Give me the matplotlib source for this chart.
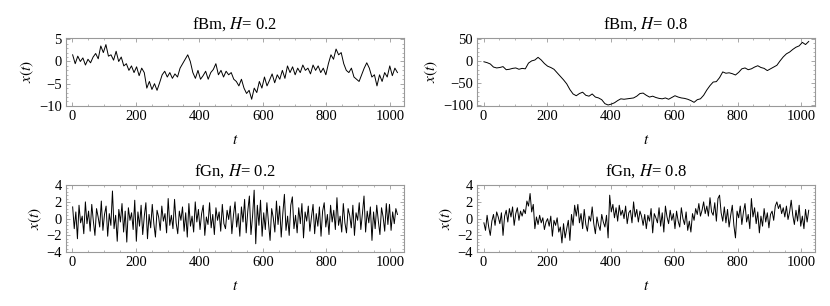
import numpy as np
import matplotlib
matplotlib.use("Agg")
import matplotlib.pyplot as plt
from matplotlib.ticker import MultipleLocator, AutoMinorLocator

plt.rcParams["font.family"] = ["Liberation Serif", "DejaVu Serif"]
plt.rcParams["mathtext.fontset"] = "stix"

# fBm, H = 0.2 (leido cada ~8 pasos)
fbm02 = [1.5, -0.5, 1.2, 0.0, 0.8, -0.8, 0.5, -0.3,
         1.0, 1.8, 0.6, 3.5, 2.0, 3.8, 1.2, 1.5,
         0.3, 2.3, 0.0, 1.0, -1.0, -0.5, -2.0, -1.0,
         -2.5, -1.2, -3.2, -1.5, -2.5, -6.0, -4.5, -6.3,
         -5.0, -6.5, -4.8, -3.0, -2.2, -3.5, -2.5, -3.8,
         -2.8, -3.5, -1.5, -0.5, 0.5, 1.5, 0.0, -2.5,
         -3.8, -2.0, -4.0, -3.2, -2.2, -4.0, -2.5, -1.8,
         -0.5, -3.0, -2.0, -3.5, -2.2, -3.0, -2.5, -4.0,
         -4.5, -5.5, -4.0, -6.0, -7.2, -6.5, -8.5, -6.0,
         -7.0, -4.5, -6.0, -3.5, -5.5, -4.2, -2.8, -4.8,
         -3.0, -4.0, -2.0, -3.8, -1.0, -2.5, -1.2, -3.0,
         -1.5, -2.5, -0.8, -2.0, -1.5, -2.8, -0.8, -2.0,
         -1.0, -2.5, -1.5, -3.0, -0.5, 1.5, 0.5, 2.8,
         1.5, 2.0, -0.5, -2.0, -2.5, -1.5, -3.5, -4.0,
         -4.5, -3.0, -1.5, -0.3, -1.5, -3.5, -3.0, -5.5,
         -3.0, -4.5, -2.5, -3.5, -1.0, -3.2, -1.5, -2.5]

# fBm, H = 0.8 (leido cada ~10 pasos)
fbm08 = [-2, -4, -7, -14, -16, -15, -13, -20, -19, -17,
         -16, -19, -17, -18, -5, 0, 2, 8, 2, -6,
         -12, -15, -19, -27, -35, -43, -52, -65, -75, -79,
         -74, -71, -78, -80, -75, -82, -84, -88, -97, -100,
         -98, -95, -90, -86, -87, -86, -85, -84, -80, -74,
         -73, -78, -82, -80, -83, -85, -86, -84, -87, -83,
         -79, -82, -84, -85, -87, -90, -94, -88, -86, -78,
         -66, -56, -48, -47, -38, -25, -28, -27, -29, -32,
         -26, -18, -16, -20, -18, -14, -11, -15, -17, -22,
         -18, -14, -10, 0, 9, 16, 20, 26, 31, 34,
         42, 37, 44]

# fGn, H = 0.2 (leido cada ~5 pasos)
fgn02 = [1.4, -1.2, 0.8, -2.4, 1.6, -0.5, 0.3, -1.8, 2.0, -0.6,
         0.9, -1.5, 1.7, -0.3, -2.0, 1.2, 0.2, -1.0, 2.1, -1.4,
         0.5, 1.5, -2.1, 0.6, -0.8, 3.3, -1.2, 0.4, -2.7, 1.1,
         -0.4, 1.8, -1.6, 0.9, -2.8, 1.3, -0.2, 0.7, -1.3, 2.2,
         -2.7, 0.8, -0.9, 1.6, -1.9, 0.3, 1.9, -2.4, 0.5, -1.1,
         1.7, -0.6, -2.2, 1.0, 0.2, -1.4, 1.5, -0.3, 0.6, -1.7,
         2.4, -0.8, 0.4, -1.2, 2.3, -0.5, -1.8, 0.9, -0.2, 1.4,
         -1.5, 0.7, -2.2, 1.8, -0.9, 0.3, -1.6, 2.0, -0.4, 1.1,
         -1.3, 0.6, 1.6, -2.0, 0.2, -0.7, 1.9, -1.1, 0.5, -1.9,
         1.3, -0.2, 0.8, -1.5, 1.7, -0.6, -1.2, 1.0, -0.1, 1.5,
         -1.8, 0.4, 2.0, -1.0, 0.6, -2.1, 1.4, -0.4, 2.3, -1.7,
         0.9, 2.7, -1.9, 0.3, 3.4, -3.0, 1.6, -0.8, 2.2, -2.1,
         0.7, -1.3, 1.9, -0.5, -2.6, 1.2, 0.1, -1.6, 2.1, -0.7,
         1.5, -2.2, 0.6, 2.9, -1.4, 0.3, -2.0, 1.6, 2.6, -1.2,
         0.4, -1.7, 1.3, -0.6, 1.8, -2.3, 0.8, -0.3, 1.5, -1.5,
         0.2, 1.7, -1.8, 0.6, -0.9, 1.4, -2.1, 0.9, 1.9, -1.0,
         0.5, -1.9, 1.6, -0.4, 1.0, -1.3, 2.5, -0.8, 0.3, -1.6,
         1.8, -0.5, -1.7, 1.2, 0.4, -1.1, 1.6, -2.0, 0.7, -0.2,
         1.9, -1.3, 0.6, 2.7, -1.6, 0.9, -0.5, 1.4, -2.6, 0.8,
         -1.2, 1.6, -0.3, -1.9, 1.3, 0.2, -1.5, 1.8, -0.7, 1.7,
         -1.4, 0.8, -0.6, 1.2, 0.5]

# fGn, H = 0.8 (leido cada ~5 pasos)
fgn08 = [-0.5, -1.4, 0.4, -1.0, -2.0, -0.3, 0.5, -0.8, 0.8, 0.2,
         -0.6, 0.7, -2.0, 0.3, 1.0, -0.4, 1.2, 0.2, 1.4, -0.8,
         0.6, 1.3, -0.2, 0.9, 0.3, 1.1, 0.6, 2.1, 1.5, 3.0,
         0.8, 1.7, -1.2, 0.2, -0.7, 0.4, -0.5, 0.1, -1.3, -0.4,
         0.0, -0.9, 0.3, -2.1, -0.2, -0.8, 0.1, -1.6, -1.0, -2.9,
         -0.6, -2.3, -1.2, -0.2, -2.6, 0.5, -0.8, 1.6, 0.3, 1.7,
         -0.5, 0.6, -1.2, 1.1, -0.7, -1.5, 0.3, -0.3, 1.4, -0.6,
         -1.8, 0.2, -0.8, -1.4, 0.5, -0.4, -1.0, 0.4, -2.3, 2.8,
         0.8, 1.7, 0.1, 1.3, -0.3, 1.6, 0.4, 1.0, 0.0, 1.5,
         -0.6, 0.7, 1.0, -0.5, 2.0, 0.2, 1.1, -0.4, 0.9, 0.3,
         -0.8, 0.5, -1.2, 0.4, -0.3, 1.2, -1.7, 0.6, 0.1, -0.5,
         1.3, -0.9, 0.7, -1.6, 1.5, 0.2, -0.6, 1.0, -0.2, 0.6,
         -1.2, 0.9, -0.3, -1.0, 1.3, 0.0, -0.7, 0.8, -1.4, -0.3,
         -1.6, 0.6, -0.2, 1.2, 0.5, 1.8, 0.3, 1.0, 2.0, 0.6,
         1.5, 0.3, 2.5, 0.8, 0.4, 1.9, -0.3, 2.4, 2.8, 0.7,
         -0.3, 1.4, -0.5, 1.1, -1.0, 0.4, 1.6, -0.8, -2.3, 0.9,
         0.1, 1.5, -0.7, 0.8, 1.8, -0.4, 0.5, -1.2, 2.4, 0.2,
         1.3, -0.6, 0.8, -1.7, 0.3, -0.9, 1.2, -0.4, 0.7, -1.1,
         0.5, 0.9, -0.2, 1.5, 2.0, 1.2, 1.7, 0.6, 1.3, 0.2,
         1.5, -0.1, 0.8, 2.2, 0.4, -0.7, 1.0, -0.3, 1.6, -0.9,
         0.3, -1.2, 1.1, -0.4, 1.0]

titulos = ["fBm, $H$= 0.2", "fBm, $H$= 0.8", "fGn, $H$= 0.2", "fGn, $H$= 0.8"]
series = [fbm02, fbm08, fgn02, fgn08]
limites_y = [(-10, 5.3), (-102, 52), (-4, 4), (-4, 4)]
pasos_y = [5, 50, 2, 2]

fig = plt.figure(figsize=(8.3, 3.06), dpi=100)
posiciones = [[0.0795, 0.654, 0.407, 0.222],
              [0.575, 0.654, 0.407, 0.222],
              [0.0795, 0.176, 0.407, 0.219],
              [0.575, 0.176, 0.407, 0.219]]

for pos, datos, titulo, lim, paso in zip(posiciones, series, titulos, limites_y, pasos_y):
    ax = fig.add_axes(pos)
    t = np.linspace(1, 1024, len(datos))
    ax.plot(t, datos, color="black", linewidth=0.7)
    ax.set_xlim(-20, 1044)
    ax.set_ylim(*lim)
    ax.xaxis.set_major_locator(MultipleLocator(200))
    ax.xaxis.set_minor_locator(MultipleLocator(50))
    ax.yaxis.set_major_locator(MultipleLocator(paso))
    ax.yaxis.set_minor_locator(AutoMinorLocator(5))
    ax.tick_params(which="both", direction="in", top=True, right=True,
                   colors="#999999", labelcolor="black", labelsize=10.5)
    ax.tick_params(which="major", length=3, width=0.6, pad=3)
    ax.tick_params(which="minor", length=1.5, width=0.5)
    for s in ax.spines.values():
        s.set_color("#999999")
        s.set_linewidth(0.8)
    ax.set_title(titulo, fontsize=12, pad=7)
    ax.set_xlabel("$t$", fontsize=11, labelpad=8)
    ax.set_ylabel("$x(t)$", fontsize=11, labelpad=2)

fig.savefig("out.png", dpi=100)
